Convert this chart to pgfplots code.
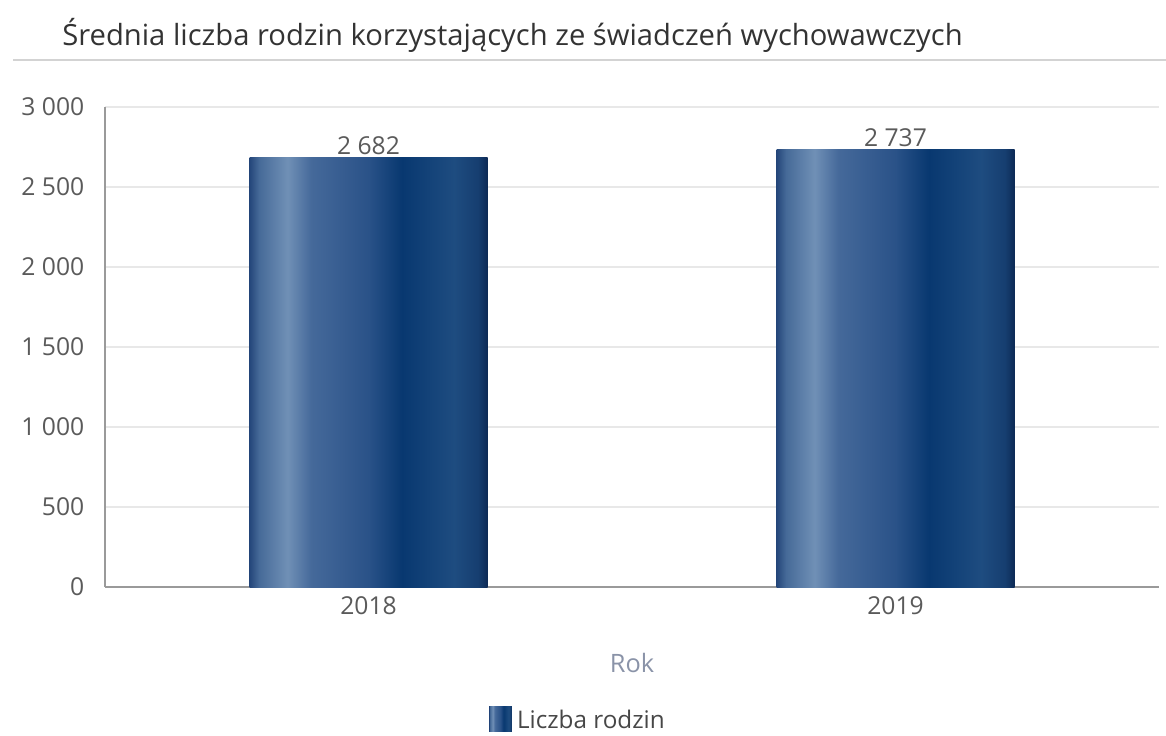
\documentclass[border=0pt]{standalone}
\usepackage{pgfplots}
\pgfplotsset{compat=1.18}
\usepackage{fontspec}
\setmainfont{Open Sans}
\definecolor{titlec}{HTML}{333333}
\definecolor{tickc}{HTML}{5A5A5A}
\definecolor{rokc}{HTML}{8A93A8}
\definecolor{gridc}{HTML}{E8E8E8}
\definecolor{axisc}{HTML}{9A9A9A}
\definecolor{s0}{HTML}{24467A}
\definecolor{s1}{HTML}{466A98}
\definecolor{s2}{HTML}{7090B6}
\definecolor{s3}{HTML}{45699A}
\definecolor{s4}{HTML}{2A5288}
\definecolor{s5}{HTML}{083870}
\definecolor{s6}{HTML}{1E4C80}
\definecolor{s7}{HTML}{163E70}
\definecolor{s8}{HTML}{0C2A55}
\pgfdeclarehorizontalshading{barshade}{100bp}{%
color(0bp)=(s0); color(25bp)=(s0); color(27bp)=(s1); color(33bp)=(s2);
color(38bp)=(s3); color(50bp)=(s4); color(57bp)=(s5); color(68bp)=(s6);
color(73bp)=(s7); color(75bp)=(s8); color(100bp)=(s8)}
\begin{document}
\begin{tikzpicture}
\useasboundingbox (0,0) rectangle (874.5pt,551.25pt);
\node[anchor=base west, font=\fontsize{21.9}{24}\selectfont, text=titlec, inner sep=0pt] at (46.5pt,516.75pt) {Średnia liczba rodzin korzystających ze świadczeń wychowawczych};
\draw[gridc!80!gray, line width=1.2pt] (10pt,506.25pt) -- (874.5pt,506.25pt);
\begin{axis}[
  at={(78.75pt,111pt)}, anchor=south west,
  scale only axis, width=790.5pt, height=360pt,
  xmin=-0.5, xmax=1.5, ymin=0, ymax=3000,
  xtick={0,1}, xticklabels={2018,2019},
  ytick={0,500,1000,1500,2000,2500,3000},
  /pgf/number format/.cd, 1000 sep={\ }, assume math mode=true, /pgfplots/.cd,
  axis x line*=bottom, axis y line*=left,
  axis line style={axisc, line width=0.8pt, -},
  major tick length=0pt,
  ymajorgrids, grid style={gridc, line width=0.8pt},
  tick label style={font=\fontsize{18.5}{21}\selectfont, text=tickc},
  yticklabel style={xshift=-12pt},
  xticklabel style={yshift=-4pt},
  xlabel={Rok}, xlabel style={font=\fontsize{19}{22}\selectfont, text=rokc, yshift=-22pt},
  ybar, bar width=178.5pt, bar shift=0pt,
  nodes near coords,
  every node near coord/.append style={font=\fontsize{18.5}{21}\selectfont, text=tickc, yshift=-1.5pt},
  legend style={at={(0.449,-0.277)}, anchor=center, draw=none, fill=none,
    font=\fontsize{18.2}{21}\selectfont, text=titlec!90!white,
    /tikz/every even column/.append style={column sep=0pt}},
  legend image code/.code={\fill[shading=barshade] (0pt,-8pt) rectangle (17pt,10.5pt);},
]
\addplot[draw=none, shading=barshade] coordinates {(0,2682)};
\addlegendentry{\hspace{2pt}Liczba rodzin}
\addplot[draw=none, shading=barshade, forget plot] coordinates {(1,2737)};
\end{axis}
\end{tikzpicture}
\end{document}
